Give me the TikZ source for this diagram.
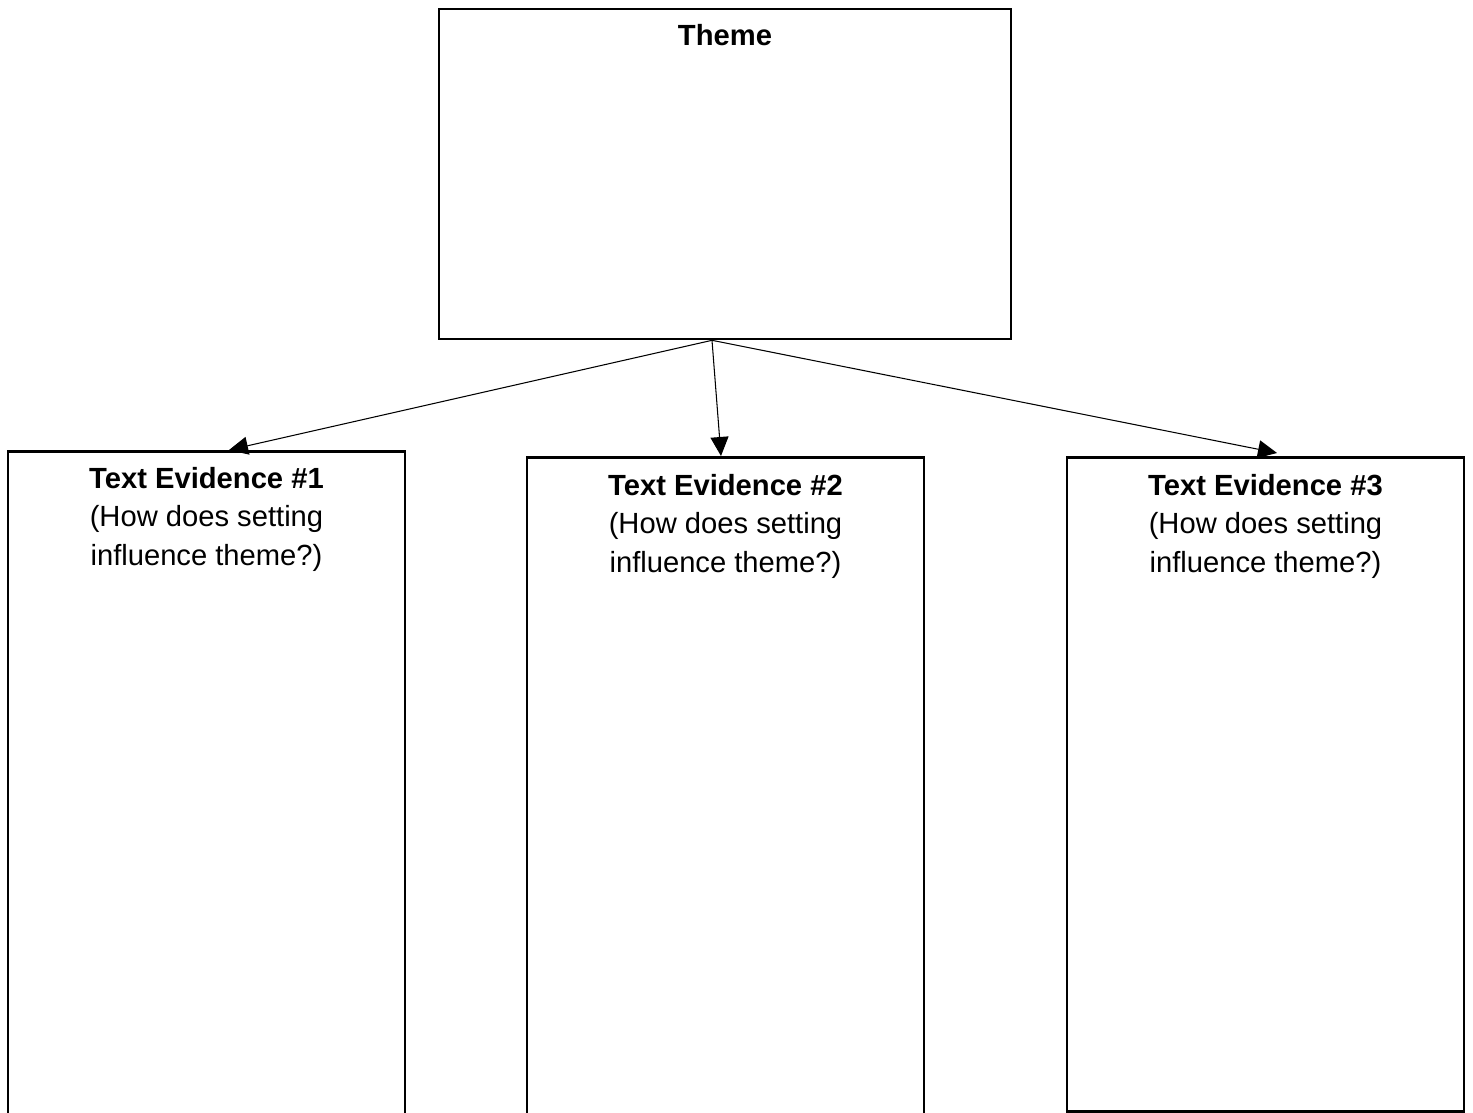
\documentclass[tikz,border=0pt]{standalone}
\usepackage{fontspec}
\setmainfont{Liberation Sans}
\usepackage{tikz}
\usetikzlibrary{arrows.meta,positioning,calc}

\tikzset{
  card/.style={draw, line width=1.5pt, minimum width=7.94cm, anchor=north},
  caption/.style={align=center, inner sep=0pt, font=\fontsize{16.6}{21.8}\selectfont},
  link/.style={line width=0.6pt, -{Triangle[length=0.38cm,width=0.36cm]}}
}

\begin{document}
\begin{tikzpicture}
        % Page frame
        \useasboundingbox (0,0) rectangle (29.46,22.24);
        \clip (0,0) rectangle (29.46,22.24);

        % Theme box
        \node[draw, line width=1.5pt, minimum width=11.44cm, minimum height=6.6cm] (theme) at (14.5,18.76) {};
        \node[caption, below=0.32cm of theme.north] (themetxt) {\textbf{Theme}};

        % Evidence boxes
        \node[card, minimum height=13.5cm] (ev1) at (4.13,13.24) {};
        \node[card, minimum height=13.5cm] (ev2) at (14.51,13.12) {};
        \node[card, minimum height=13.08cm] (ev3) at (25.31,13.12) {};

        \node[caption, below=0.34cm of ev1.north] (ev1txt) {\textbf{Text Evidence \#1}\\(How does setting\\influence theme?)};
        \node[caption, below=0.36cm of ev2.north] (ev2txt) {\textbf{Text Evidence \#2}\\(How does setting\\influence theme?)};
        \node[caption, below=0.36cm of ev3.north] (ev3txt) {\textbf{Text Evidence \#3}\\(How does setting\\influence theme?)};

        % Arrows
        \coordinate (hub) at ($(theme.south)+(-0.26,0)$);
        \coordinate (in1) at ($(ev1.north)+(0.45,0)$);
        \coordinate (in2) at ($(ev2.north)+(-0.09,0)$);
        \coordinate (in3) at ($(ev3.north)+(0.23,0.06)$);
        \draw[link] (hub) -- (in1);
        \draw[link] (hub) -- (in2);
        \draw[link] (hub) -- (in3);
      \end{tikzpicture}
\end{document}
